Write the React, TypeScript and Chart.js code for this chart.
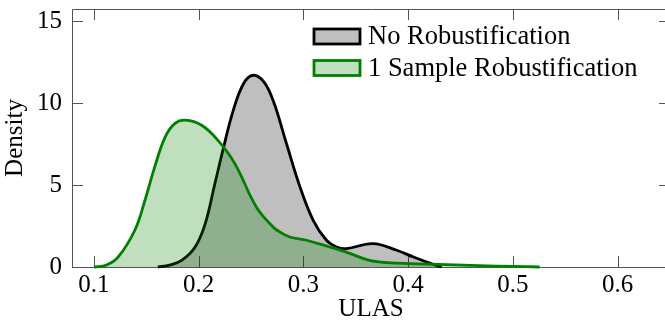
import React, { useEffect, useRef } from "react";
import { Chart, registerables } from "chart.js";

Chart.register(...registerables);

// Data (kernel density estimates)
const seriesLabels = ["No Robustification", "1 Sample Robustification"];

const noRobX = [0.161, 0.172, 0.1837, 0.1964, 0.206, 0.2155, 0.2234, 0.233, 0.243, 0.252, 0.262, 0.271, 0.2839, 0.2966, 0.3093, 0.322, 0.3316, 0.341, 0.3665, 0.389, 0.405, 0.4206, 0.432];
const noRobY = [0, 0.12, 0.4, 1.2, 2.6, 5.1, 7.2, 9.55, 11.2, 11.69, 11.3, 10.16, 7.5, 4.9, 2.85, 1.63, 1.22, 1.12, 1.43, 1.02, 0.61, 0.24, 0];

const oneX = [0.1, 0.112, 0.123, 0.139, 0.1487, 0.158, 0.1678, 0.177, 0.187, 0.2028, 0.2186, 0.2345, 0.255, 0.271, 0.2775, 0.287, 0.303, 0.325, 0.341, 0.363, 0.389, 0.4365, 0.468, 0.5, 0.5256];
const oneY = [0, 0.12, 0.6, 2.24, 4.07, 6.1, 7.9, 8.74, 8.95, 8.64, 7.7, 6.3, 3.66, 2.44, 2.13, 1.83, 1.63, 1.22, 0.91, 0.41, 0.24, 0.15, 0.08, 0.04, 0];

const xTicks = [0.1, 0.2, 0.3, 0.4, 0.5, 0.6];
const yTicks = [0, 5, 10, 15];

const xTitle = "ULAS";
const yTitle = "Density";

const FONT = "'Liberation Serif', 'DejaVu Serif', serif";
const FS = 25;
const LEGEND_FS = 26.5;

const frameTicks = {
  id: "frameTicks",
  beforeDatasetsDraw(chart: any) {
    const { ctx, chartArea } = chart;
    const { left, right, top, bottom } = chartArea;
    const xs = chart.scales.x;
    const ys = chart.scales.y;
    ctx.save();
    ctx.strokeStyle = "#555";
    ctx.lineWidth = 1;
    ctx.beginPath();
    ctx.rect(Math.round(left) + 0.5, Math.round(top) + 0.5, Math.round(right - left), Math.round(bottom - top));
    ctx.stroke();
    const tl = 11;
    ctx.beginPath();
    xTicks.forEach((v) => {
      const px = Math.round(xs.getPixelForValue(v)) + 0.5;
      ctx.moveTo(px, bottom);
      ctx.lineTo(px, bottom - tl);
      ctx.moveTo(px, top);
      ctx.lineTo(px, top + tl);
    });
    yTicks.forEach((v) => {
      const py = Math.round(ys.getPixelForValue(v)) + 0.5;
      ctx.moveTo(left, py);
      ctx.lineTo(left + tl, py);
      ctx.moveTo(right, py);
      ctx.lineTo(right - tl, py);
    });
    ctx.stroke();
    ctx.restore();
  },
};

const innerLegend = {
  id: "innerLegend",
  afterDraw(chart: any) {
    const { ctx } = chart;
    const x0 = 314;
    const rows = [36.5, 68];
    ctx.save();
    chart.data.datasets.forEach((ds: any, i: number) => {
      const cy = rows[i];
      ctx.fillStyle = "#fff";
      ctx.fillRect(x0, cy - 7.5, 46, 15);
      ctx.fillStyle = ds.backgroundColor;
      ctx.fillRect(x0, cy - 7.5, 46, 15);
      ctx.strokeStyle = ds.borderColor;
      ctx.lineWidth = 2.8;
      ctx.strokeRect(x0, cy - 7.5, 46, 15);
      ctx.fillStyle = "#000";
      ctx.font = `${LEGEND_FS}px ${FONT}`;
      ctx.textBaseline = "middle";
      ctx.textAlign = "left";
      ctx.fillText(ds.label, x0 + 54, cy + 1);
    });
    ctx.restore();
  },
};

export default function App() {
  const ref = useRef<HTMLCanvasElement | null>(null);
  useEffect(() => {
    if (!ref.current) return;
    const chart = new Chart(ref.current, {
      type: "line",
      data: {
        datasets: [
          {
            label: seriesLabels[0],
            data: noRobX.map((x, i) => ({ x, y: noRobY[i] })),
            borderColor: "#000000",
            backgroundColor: "rgba(0,0,0,0.25)",
            borderWidth: 2.8,
            fill: "origin",
            pointRadius: 0,
            tension: 0.4,
            clip: 5,
            order: 1,
          },
          {
            label: seriesLabels[1],
            data: oneX.map((x, i) => ({ x, y: oneY[i] })),
            borderColor: "#008000",
            backgroundColor: "rgba(0,128,0,0.25)",
            borderWidth: 2.8,
            fill: "origin",
            pointRadius: 0,
            tension: 0.4,
            clip: 5,
            order: 0,
          },
        ],
      },
      options: {
        responsive: false,
        animation: false,
        layout: { padding: { left: 0, right: 10, top: 9, bottom: 0 } },
        plugins: { legend: { display: false }, tooltip: { enabled: false } },
        scales: {
          x: {
            type: "linear",
            min: 0.079,
            max: 0.65,
            afterBuildTicks: (s: any) => {
              s.ticks = xTicks.map((v) => ({ value: v }));
            },
            afterFit: (s: any) => {
              s.height = 57;
              s.paddingLeft = 0;
              s.paddingRight = 0;
            },
            grid: { display: false, drawTicks: false },
            border: { display: false },
            ticks: {
              padding: 3,
              color: "#000",
              font: { family: FONT, size: FS },
              callback: (v: any) => Number(v).toFixed(1),
              maxRotation: 0,
              autoSkip: false,
            },
            title: {
              display: true,
              text: xTitle,
              color: "#000",
              font: { family: FONT, size: FS },
              padding: 0,
            },
          },
          y: {
            type: "linear",
            min: 0,
            max: 15.73,
            afterBuildTicks: (s: any) => {
              s.ticks = yTicks.map((v) => ({ value: v }));
            },
            afterFit: (s: any) => {
              s.width = 72;
              s.paddingTop = 0;
              s.paddingBottom = 0;
            },
            grid: { display: false, drawTicks: false },
            border: { display: false },
            ticks: {
              padding: 10,
              color: "#000",
              font: { family: FONT, size: FS },
              callback: (v: any) => String(v),
              autoSkip: false,
            },
            title: {
              display: true,
              text: yTitle,
              color: "#000",
              font: { family: FONT, size: FS },
              padding: 0,
            },
          },
        },
      },
      plugins: [frameTicks, innerLegend],
    } as any);
    return () => chart.destroy();
  }, []);
  return (
    <div style={{ position: "fixed", left: 0, top: 0, width: 665, height: 324, overflow: "hidden", background: "#fff" }}>
      <canvas ref={ref} width={680} height={324} style={{ display: "block" }} />
    </div>
  );
}
